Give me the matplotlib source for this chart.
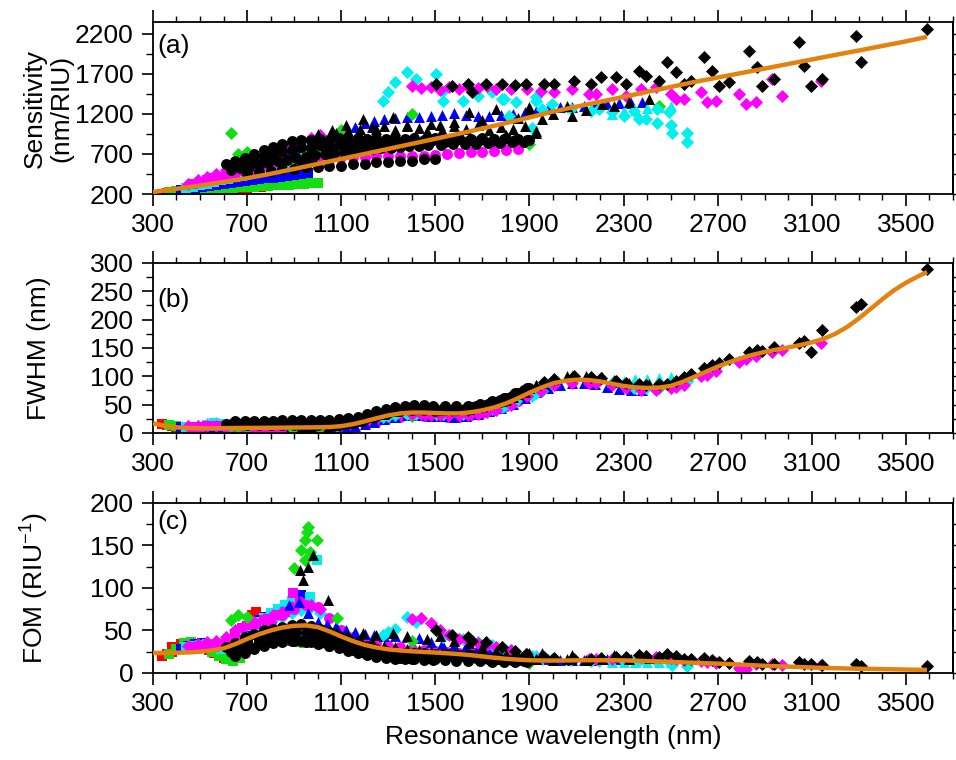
import numpy as np
import matplotlib
matplotlib.use('Agg')
import matplotlib.pyplot as plt

plt.rcParams['font.family'] = ['Liberation Sans', 'DejaVu Sans']
plt.rcParams['mathtext.fontset'] = 'custom'
plt.rcParams['mathtext.rm'] = 'Liberation Sans'
plt.rcParams['mathtext.it'] = 'Liberation Sans'

# ---------------------------- fitted curves (orange) ----------------------------
fitS_lam = [300, 350, 400, 500, 600, 700, 800, 900, 1000, 1100, 1200, 1300, 1400, 1500, 1600, 1700, 1800,
            1900, 2000, 2100, 2200, 2300, 2400, 2500, 2600, 2700, 2800, 2900, 3000, 3100, 3200, 3300, 3400,
            3500, 3590]
fit_S = [225, 245, 265, 305, 350, 397, 452, 513, 575, 638, 700, 763, 826, 889, 952, 1017, 1085,
         1155, 1228, 1290, 1350, 1412, 1474, 1535, 1597, 1653, 1709, 1765, 1822, 1878, 1935, 1990, 2047,
         2104, 2160]

fit_lam = [300, 350, 400, 450, 500, 550, 600, 650, 700, 750, 800, 850, 900, 950, 1000, 1050, 1100, 1150,
           1200, 1250, 1300, 1350, 1400, 1450, 1500, 1550, 1600, 1650, 1700, 1750, 1800, 1850, 1900, 1950,
           2000, 2050, 2100, 2150, 2200, 2250, 2300, 2350, 2400, 2450, 2500, 2550, 2600, 2650, 2700, 2750,
           2800, 2850, 2900, 2950, 3000, 3050, 3100, 3150, 3200, 3250, 3300, 3350, 3400, 3450, 3500, 3550,
           3590]
fit_F = [17, 12.5, 10, 8.8, 8.2, 8.2, 8.5, 8.8, 9, 9, 9.2, 9.4, 9.6, 9.8, 10, 10.5, 12, 15.5,
         20.5, 26, 31, 34.5, 36, 36, 35.2, 34.5, 34.5, 36.5, 40, 45, 52, 61, 71, 80,
         87.5, 92, 94, 93.5, 91, 87, 83, 80.5, 79.5, 80, 83, 90, 99, 108, 117, 125,
         132, 138, 143, 147, 151, 155, 160, 166, 175, 187, 202, 219, 236, 252, 265, 276,
         284]
fit_M = [23.5, 23.5, 23.8, 24.2, 25, 26.5, 29, 34, 40, 45.5, 50, 53.5, 55.5, 56, 54, 49, 43, 37.5,
         33, 30, 27.8, 26.5, 25.5, 24.8, 24, 23.2, 22.2, 21, 19.5, 18, 16.7, 15.7, 15, 14.7,
         14.6, 14.7, 14.9, 15, 15, 15, 14.8, 14.4, 14, 13.5, 13, 12.5, 12, 11.5, 11, 10.5,
         9.8, 9.1, 8.5, 8, 7.5, 7, 6.5, 6, 5.6, 5.3, 5, 4.8, 4.5, 4.3, 4, 3.8,
         3.6]

# ---------------------------- scatter data ----------------------------
# red squares
red_lam = [340, 360, 380, 400, 420, 440, 460, 480, 500, 520, 540, 560, 580, 600, 620, 640, 660, 680, 700, 720, 740, 760,
           380, 420, 460, 500, 540, 580, 620, 660, 700]
red_S = [205, 210, 215, 220, 224, 228, 232, 236, 240, 244, 248, 252, 256, 260, 264, 268, 272, 276, 280, 284, 288, 292,
         228, 245, 260, 272, 282, 290, 297, 303, 310]
red_F = [16, 14, 12, 10, 9, 8, 7, 7, 7, 7, 6, 6, 6, 6, 6, 6, 6, 6, 6, 6, 6, 6,
         13, 11, 10, 9, 9, 8, 8, 8, 8]
red_M = [20, 22, 25, 28, 30, 32, 33, 34, 32, 30, 27, 24, 21, 18, 16, 15, 20, 35, 55, 68, 72, 60,
         30, 34, 36, 34, 30, 26, 22, 28, 48]

# green squares
grn_lam = [370, 400, 430, 460, 490, 520, 550, 580, 610, 640, 670, 700, 730, 760, 790, 820, 850, 880, 910, 940, 970, 1000]
grn_S = [225, 232, 238, 244, 250, 256, 262, 268, 273, 278, 283, 288, 293, 298, 303, 308, 313, 318, 323, 328, 333, 338]
grn_F = [14, 12, 10, 9, 8, 7, 7, 7, 6, 6, 6, 6, 6, 6, 6, 5, 5, 5, 5, 5, 5, 6]
grn_M = [22, 28, 35, 36, 34, 30, 25, 20, 16, 14, 18, 30, 45, 55, 50, 45, 40, 38, 36, 35, 38, 40]

# green diamonds
grnd_lam = [630, 660, 700, 900, 930, 945, 945, 953, 958, 966, 996, 1081, 1100, 1400, 1900, 2450]
grnd_S = [960, 700, 720, 620, 650, 660, 640, 670, 680, 690, 700, 760, 1000, 1200, 820, 1300]
grnd_F = [12, 10, 10, 5, 4.5, 4.3, 4.6, 4.1, 4, 4.3, 4.5, 12, 20, 30, 70, 80]
grnd_M = [62, 68, 66, 124, 145, 156, 133, 166, 172, 142, 156, 65, 40, 38, 12, 16]

# blue squares
blu_lam = [420, 450, 480, 510, 540, 570, 600, 630, 660, 690, 720, 750, 780, 810, 840, 870, 900, 930, 960]
blu_S = [250, 262, 274, 286, 298, 310, 322, 334, 346, 358, 370, 382, 394, 406, 418, 430, 442, 454, 466]
blu_F = [11, 10, 9, 8, 8, 7, 7, 7, 7, 7, 7, 7, 7, 7, 7, 7, 7, 7, 7]
blu_M = [28, 32, 34, 35, 34, 32, 30, 32, 40, 50, 58, 62, 66, 70, 75, 80, 86, 92, 80]

# blue triangles
blut_lam = [880, 920, 960, 1000, 1040, 1080, 1120, 1160, 1200, 1240, 1280, 1330, 1380, 1430, 1480, 1530, 1580,
            1630, 1680, 1730, 1780, 1830, 1880, 1930, 1980, 2030, 2080, 2130, 2180, 2230, 2280, 2330, 2380]
blut_S = [700, 740, 770, 800, 860, 920, 980, 1030, 1080, 1110, 1140, 1150, 1160, 1165, 1170, 1190, 1210,
          1180, 1170, 1175, 1190, 1200, 1220, 1240, 1260, 1280, 1290, 1300, 1310, 1320, 1330, 1340, 1350]
blut_F = [6, 6, 7, 7, 7, 8, 9, 12, 16, 20, 25, 29, 31, 31, 30, 30, 29,
          30, 33, 38, 44, 52, 62, 72, 80, 85, 88, 88, 86, 82, 78, 76, 75]
blut_M = [80, 84, 70, 60, 58, 55, 50, 48, 46, 45, 44, 43, 42, 41, 36, 34, 33,
          32, 30, 26, 23, 20, 18, 17, 16, 15, 15, 15, 15, 16, 17, 17, 18]

# cyan squares
cyn_lam = [440, 470, 500, 530, 560, 590, 620, 650, 680, 710, 740, 770, 800, 830, 860, 890, 966, 996]
cyn_S = [270, 290, 310, 330, 350, 370, 390, 410, 430, 450, 470, 490, 510, 530, 550, 570, 600, 620]
cyn_F = [10, 10, 11, 14, 17, 16, 14, 12, 10, 9, 8, 8, 8, 7, 7, 7, 6, 5]
cyn_M = [30, 32, 33, 34, 30, 28, 30, 38, 48, 55, 60, 65, 70, 75, 80, 85, 89, 133]

# cyan diamonds (upper fan and upper cloud)
cynf_lam = [450, 490, 530, 570, 610, 650, 690, 730, 770, 810, 850, 890, 930, 970, 1010]
cynf_S = [310, 345, 385, 425, 465, 505, 545, 585, 625, 665, 705, 745, 785, 825, 865]
cynf_F = [10, 11, 15, 18, 16, 13, 11, 10, 9, 9, 9, 8, 8, 8, 8]
cynf_M = [30, 33, 34, 32, 30, 36, 44, 52, 58, 62, 66, 70, 74, 78, 70]

cynd_lam = [1276, 1297, 1327, 1378, 1420, 1505, 1531, 1531, 1616, 1680, 1743, 1785, 1794, 1815, 1845, 1913, 1930,
            1930, 1955, 1998, 2078, 2163, 2197, 2252, 2303, 2346, 2367, 2397, 2443, 2443, 2494, 2503, 2507, 2571, 2571]
cynd_S = [1356, 1469, 1594, 1720, 1640, 1695, 1481, 1356, 1356, 1420, 1469, 1381, 1381, 1168, 1343, 1029, 1356,
          1406, 1255, 1318, 1255, 1230, 1255, 1218, 1168, 1230, 1130, 1130, 1255, 1092, 1218, 1067, 966, 966, 853]
cynd_F = [28, 30, 31, 33, 34, 34, 33, 33, 33, 38, 42, 46, 48, 52, 56, 66, 70,
          70, 74, 86, 92, 94, 92, 88, 84, 80, 80, 79, 80, 80, 84, 86, 86, 92, 92]
cynd_M = [45, 48, 52, 66, 60, 50, 45, 42, 40, 36, 33, 30, 28, 26, 24, 20, 19,
          20, 17, 16, 15, 14, 14, 14, 14, 15, 14, 14, 16, 13, 15, 10, 9, 8, 8]

# cyan triangles
cynt_lam = [2250, 2300, 2350, 2400, 2450, 2500]
cynt_S = [1200, 1230, 1250, 1270, 1290, 1300]
cynt_F = [90, 92, 95, 96, 97, 98]
cynt_M = [13, 13, 13, 13, 13, 13]

# magenta squares
mag_lam = [470, 500, 530, 560, 590, 620, 650, 680, 710, 740, 770, 800, 830, 860, 890, 894, 924]
mag_S = [330, 350, 372, 394, 416, 438, 460, 482, 505, 528, 551, 574, 597, 620, 643, 660, 680]
mag_F = [11, 11, 12, 13, 12, 11, 10, 9, 9, 9, 9, 9, 9, 9, 9, 7, 8]
mag_M = [30, 32, 31, 30, 34, 40, 46, 53, 56, 58, 62, 64, 68, 72, 75, 94, 82]

# magenta diamonds (upper fan)
magf_lam = [450, 490, 530, 570, 610, 650, 690, 730, 770, 810, 850, 890, 930, 970, 1010]
magf_S = [330, 370, 410, 455, 500, 545, 590, 635, 680, 725, 770, 815, 860, 900, 940]
magf_F = [12, 12, 13, 13, 12, 11, 10, 10, 9, 9, 9, 9, 9, 9, 9]
magf_M = [32, 34, 36, 38, 42, 50, 56, 60, 64, 68, 72, 78, 84, 80, 75]

# magenta circles
magc_lam = [800, 850, 900, 950, 1000, 1050, 1100, 1150, 1200, 1250, 1300, 1350, 1400, 1450, 1500, 1550,
            1600, 1650, 1700, 1750, 1800, 1850]
magc_S = [560, 585, 610, 630, 645, 655, 660, 665, 668, 670, 672, 675, 678, 680, 690, 700,
          710, 720, 730, 740, 750, 760]
magc_F = [5, 5, 5, 5, 6, 6, 7, 10, 15, 20, 26, 29, 31, 30, 30, 29,
          29, 31, 35, 41, 47, 56]
magc_M = [60, 68, 75, 80, 78, 65, 50, 42, 38, 35, 32, 30, 28, 27, 26, 25,
          24, 23, 22, 21, 20, 19]

# magenta diamonds
magd_lam = [1403, 1440, 1480, 1520, 1560, 1600, 1640, 1680, 1720, 1760, 1823, 1891, 1950, 2006, 2082, 2155, 2184,
            2252, 2312, 2375, 2439, 2503, 2524, 2558, 2630, 2655, 2693, 2791, 2821, 2863, 2931, 2974, 3139]
magd_S = [1546, 1520, 1540, 1500, 1530, 1510, 1540, 1520, 1545, 1510, 1508, 1508, 1490, 1470, 1508, 1445, 1445,
          1508, 1420, 1508, 1533, 1445, 1383, 1383, 1470, 1345, 1357, 1445, 1320, 1345, 1634, 1420, 1609]
magd_F = [33, 33, 32, 32, 31, 31, 32, 34, 37, 41, 50, 65, 74, 84, 89, 89, 88,
          84, 79, 76, 76, 79, 82, 85, 100, 103, 110, 126, 130, 135, 142, 146, 158]
magd_M = [64, 65, 59, 50, 45, 40, 38, 35, 33, 30, 27, 22, 19, 17, 16, 16, 16,
          17, 18, 19, 19, 18, 16, 15, 14, 13, 12, 6, 5, 10, 11, 9, 9]

# black circles (upper band)
blka_lam = [610, 650, 690, 730, 770, 810, 850, 890, 930, 970, 1010, 1050, 1090, 1130, 1170, 1210, 1250, 1290,
            1330, 1370, 1410, 1450, 1500, 1550, 1600, 1650, 1700, 1750, 1800, 1850, 1900]
blka_S = [570, 610, 655, 700, 745, 790, 830, 865, 880, 870, 890, 875, 895, 880, 900, 885, 905, 890,
          900, 885, 905, 880, 895, 880, 900, 885, 905, 890, 900, 885, 880]
blka_F = [16, 17, 17, 17, 17, 17, 18, 18, 18, 18, 18, 18, 19, 22, 25, 29, 34, 39,
          42, 44, 45, 44, 43, 42, 42, 45, 49, 55, 61, 70, 80]
blka_M = [30, 35, 42, 46, 50, 52, 54, 56, 58, 55, 52, 48, 44, 40, 36, 32, 28, 26,
          25, 24, 23, 23, 22, 22, 21, 21, 20, 18, 17, 16, 15]

# black circles (second band)
blkd2_lam = [650, 690, 730, 770, 810, 850, 890, 930, 970, 1010, 1050, 1090, 1130, 1170, 1210, 1250, 1290, 1330,
             1370, 1410, 1450, 1490, 1540, 1590, 1640, 1690, 1740, 1790, 1840, 1890]
blkd2_S = [560, 600, 620, 670, 690, 740, 755, 790, 780, 810, 795, 825, 810, 840, 825, 850, 835, 858,
           840, 865, 848, 870, 852, 875, 858, 880, 862, 885, 868, 880]
blkd2_F = [21, 22, 22, 22, 22, 23, 23, 23, 23, 23, 23, 24, 26, 29, 33, 38, 43, 46,
           48, 49, 49, 48, 47, 47, 48, 51, 56, 62, 70, 80]
blkd2_M = [20, 24, 28, 32, 35, 37, 38, 38, 37, 35, 32, 29, 26, 23, 21, 19, 18, 17,
           16, 16, 15, 15, 15, 14, 14, 14, 13, 13, 13, 13]

# black circles (middle band)
blkb_lam = [630, 670, 710, 750, 790, 830, 870, 910, 950, 990, 1030, 1070, 1110, 1150, 1190, 1230, 1270, 1310,
            1350, 1390, 1430, 1470, 1525, 1575, 1625, 1675, 1725, 1775, 1825, 1875]
blkb_S = [500, 520, 540, 560, 585, 610, 630, 650, 668, 685, 700, 715, 728, 740, 750, 760, 770, 778,
          786, 794, 800, 806, 812, 818, 824, 830, 835, 840, 845, 850]
blkb_F = [15, 15, 15, 16, 16, 16, 16, 16, 16, 17, 17, 17, 18, 21, 25, 29, 34, 38,
          41, 43, 43, 42, 41, 41, 43, 47, 52, 58, 66, 76]
blkb_M = [25, 28, 32, 36, 40, 43, 46, 48, 47, 45, 42, 38, 34, 30, 27, 25, 24, 23,
          22, 22, 21, 21, 20, 20, 19, 18, 17, 16, 15, 14]

# black circles (lower band)
blkc_lam = [700, 750, 800, 850, 900, 950, 1000, 1050, 1100, 1150, 1200, 1250, 1300, 1350, 1400, 1450, 1500]
blkc_S = [450, 475, 485, 510, 515, 535, 535, 555, 555, 575, 575, 595, 595, 615, 615, 635, 640]
blkc_F = [14, 14, 14, 14, 14, 14, 14, 15, 16, 18, 24, 30, 36, 39, 41, 40, 39]
blkc_M = [38, 40, 42, 40, 38, 36, 34, 32, 30, 27, 24, 22, 20, 18, 17, 16, 16]

# black triangles
blkt_lam = [924, 937, 958, 979, 1043, 1000, 1060, 1120, 1191, 1250, 1319, 1380, 1463, 1520, 1580, 1645, 1700,
            1760, 1802, 1850, 1900, 1900, 1930, 1930, 1955, 2000, 2061, 2082, 2140, 2210, 2260, 2324, 2409]
blkt_S = [590, 600, 620, 640, 700, 950, 1000, 1060, 1131, 1010, 1156, 1050, 980, 1060, 1100, 1219, 1120,
          1257, 942, 1150, 1257, 1282, 980, 967, 1131, 1200, 1294, 1169, 1250, 1320, 1300, 1345, 1383]
blkt_F = [5, 5.5, 5, 4.6, 8, 17, 18, 20, 26, 33, 40, 43, 43, 42, 41, 42, 47,
          54, 59, 68, 79, 79, 84, 84, 88, 95, 100, 101, 101, 98, 94, 89, 86]
blkt_M = [121, 109, 125, 139, 86, 40, 42, 44, 47, 45, 47, 44, 40, 43, 38, 35, 30,
          26, 22, 20, 23, 18, 17, 16, 23, 15, 16, 21, 15, 16, 21, 17, 18]

# black triangles (second band)
blke_lam = [1080, 1130, 1180, 1230, 1280, 1330, 1380, 1430, 1480, 1530, 1580, 1630, 1680, 1730, 1780, 1830, 1880]
blke_S = [960, 990, 1010, 1030, 1045, 1000, 1060, 1020, 1070, 1000, 1050, 1010, 1060, 1000, 1040, 1010, 1050]
blke_F = [14, 17, 22, 28, 34, 39, 42, 43, 42, 41, 41, 43, 46, 51, 57, 64, 73]
blke_M = [48, 44, 40, 36, 32, 30, 28, 27, 26, 25, 24, 22, 20, 18, 17, 16, 15]

# black diamonds
blkd_lam = [1505, 1569, 1637, 1654, 1717, 1785, 1840, 1887, 1964, 2006, 2091, 2163, 2206, 2269, 2312, 2367, 2397,
            2452, 2486, 2524, 2558, 2588, 2643, 2677, 2706, 2749, 2834, 2868, 2889, 2940, 3046, 3067, 3097,
            3143, 3288, 3309, 3589]
blkd_S = [1571, 1546, 1571, 1470, 1571, 1571, 1560, 1571, 1571, 1571, 1609, 1571, 1659, 1659, 1571, 1735, 1672,
          1609, 1848, 1722, 1571, 1609, 1911, 1735, 1546, 1596, 1986, 1785, 1546, 1634, 2099, 1798, 1546,
          1634, 2175, 1848, 2263]
blkd_F = [42, 40, 41, 44, 48, 57, 67, 76, 90, 95, 100, 98, 97, 92, 88, 86, 85,
          86, 87, 92, 98, 104, 114, 120, 124, 130, 142, 146, 144, 152, 158, 162, 142,
          182, 222, 228, 290]
blkd_M = [51, 45, 42, 38, 36, 30, 26, 22, 19, 18, 17, 17, 18, 19, 19, 21, 20,
          19, 22, 20, 17, 16, 18, 15, 13, 12, 14, 13, 11, 11, 13, 11, 10,
          9, 10, 8, 8]

groups = [
    (red_lam, red_S, red_F, red_M, '#ff0000', 's', 50),
    (grn_lam, grn_S, grn_F, grn_M, '#10e010', 's', 50),
    (blu_lam, blu_S, blu_F, blu_M, '#0000ff', 's', 50),
    (cyn_lam, cyn_S, cyn_F, cyn_M, '#00f0f0', 's', 50),
    (cynf_lam, cynf_S, cynf_F, cynf_M, '#00f0f0', 'D', 44),
    (mag_lam, mag_S, mag_F, mag_M, '#ff00ff', 's', 50),
    (magf_lam, magf_S, magf_F, magf_M, '#ff00ff', 'D', 44),
    (magc_lam, magc_S, magc_F, magc_M, '#ff00ff', 'o', 62),
    (blut_lam, blut_S, blut_F, blut_M, '#0000ff', '^', 62),
    (cynt_lam, cynt_S, cynt_F, cynt_M, '#00f0f0', '^', 62),
    (grnd_lam, grnd_S, grnd_F, grnd_M, '#10e010', 'D', 44),
    (cynd_lam, cynd_S, cynd_F, cynd_M, '#00f0f0', 'D', 44),
    (magd_lam, magd_S, magd_F, magd_M, '#ff00ff', 'D', 44),
    (blkc_lam, blkc_S, blkc_F, blkc_M, '#000000', 'o', 62),
    (blkb_lam, blkb_S, blkb_F, blkb_M, '#000000', 'o', 62),
    (blkd2_lam, blkd2_S, blkd2_F, blkd2_M, '#000000', 'o', 62),
    (blka_lam, blka_S, blka_F, blka_M, '#000000', 'o', 62),
    (blke_lam, blke_S, blke_F, blke_M, '#000000', '^', 62),
    (blkt_lam, blkt_S, blkt_F, blkt_M, '#000000', '^', 62),
    (blkd_lam, blkd_S, blkd_F, blkd_M, '#000000', 'D', 44),
]

fig = plt.figure(figsize=(9.56, 7.6), dpi=100)
ax1 = fig.add_axes([0.160, 0.7447, 0.8368, 0.2263])
ax2 = fig.add_axes([0.160, 0.4303, 0.8368, 0.2237])
ax3 = fig.add_axes([0.160, 0.1145, 0.8368, 0.2237])
axes = [ax1, ax2, ax3]
fits = [(fitS_lam, fit_S), (fit_lam, fit_F), (fit_lam, fit_M)]

for k, ax in enumerate(axes):
    for g in groups:
        ax.scatter(g[0], g[k + 1], s=g[6], marker=g[5], c=g[4], linewidths=0, zorder=2)
    ax.plot(fits[k][0], fits[k][1], color='#e3820f', lw=3.2, zorder=3, solid_capstyle='butt')

    ax.set_xlim(300, 3700)
    ax.set_xticks(np.arange(300, 3501, 400))
    ax.set_xticks(np.arange(300, 3701, 100), minor=True)
    ax.tick_params(axis='x', which='both', direction='out', top=True, bottom=True,
                   labelsize=19, pad=5)
    ax.tick_params(axis='x', which='major', length=8.5, width=1.2)
    ax.tick_params(axis='x', which='minor', length=4.5, width=1.0)
    ax.tick_params(axis='y', which='major', direction='out', length=8, width=1.2,
                   labelsize=19, pad=6, right=False)
    ax.tick_params(axis='y', which='minor', direction='out', length=5, width=1.0, right=False)
    for sp in ax.spines.values():
        sp.set_linewidth(1.3)

ax1.set_ylim(200, 2345)
ax1.set_yticks([200, 700, 1200, 1700, 2200])
ax1.set_yticks(np.arange(450, 2345, 500), minor=True)
ax2.set_ylim(0, 300)
ax2.set_yticks(np.arange(0, 301, 50))
ax2.set_yticks(np.arange(25, 300, 50), minor=True)
ax3.set_ylim(0, 200)
ax3.set_yticks(np.arange(0, 201, 50))
ax3.set_yticks(np.arange(25, 200, 50), minor=True)

for ax in axes:
    sec = ax.secondary_yaxis('right')
    lo, hi = ax.get_ylim()
    step = 250 if ax is ax1 else 25
    sec.set_yticks(np.arange(lo, hi, step))
    sec.tick_params(direction='out', length=2.5, width=1.0, labelright=False)
    sec.spines['right'].set_linewidth(1.3)

ax1.set_ylabel('Sensitivity\n(nm/RIU)', fontsize=19, linespacing=1.1)
ax1.yaxis.set_label_coords(-0.100, 0.5)
ax2.set_ylabel('FWHM (nm)', fontsize=19)
ax2.yaxis.set_label_coords(-0.128, 0.5)
ax3.set_ylabel('FOM (RIU$^{-1}$)', fontsize=19)
ax3.yaxis.set_label_coords(-0.128, 0.5)
ax3.set_xlabel('Resonance wavelength (nm)', fontsize=19, labelpad=7)

ax1.text(0.006, 0.86, '(a)', transform=ax1.transAxes, fontsize=19, ha='left', va='center')
ax2.text(0.006, 0.78, '(b)', transform=ax2.transAxes, fontsize=19, ha='left', va='center')
ax3.text(0.006, 0.89, '(c)', transform=ax3.transAxes, fontsize=19, ha='left', va='center')

fig.savefig('out.png', dpi=100)
